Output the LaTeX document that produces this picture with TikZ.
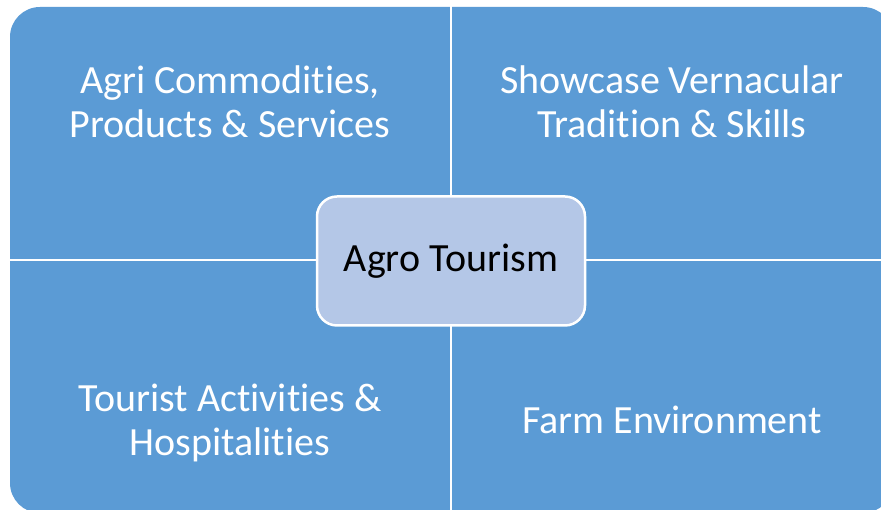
\documentclass[tikz,border=0pt]{standalone}
\usepackage{fontspec}
\setmainfont{Carlito}[RawFeature={-liga;-clig;-calt;-dlig}]
\definecolor{quad}{HTML}{5B9BD5}
\definecolor{centre}{HTML}{B4C7E7}
\begin{document}
\begin{tikzpicture}[x=1pt,y=1pt,
  quadfill/.style={fill=quad,rounded corners=30pt},
  divider/.style={draw=white,line width=2.5pt},
  qtext/.style={text=white,align=center,font=\fontsize{40}{44}\selectfont},
  hub/.style={fill=centre,draw=white,line width=2.5pt,rounded corners=20pt,minimum width=268pt,minimum height=129pt,font=\fontsize{40}{44}\selectfont,text=black}]
\useasboundingbox (0,0) rectangle (881,510);
\clip (0,0) rectangle (881,510);
% whole matrix (y = 510 - pixel y)
\path[quadfill] (10,-3) rectangle (893,503);
\coordinate (top) at (451,505);
\coordinate (bottom) at (451,-5);
\coordinate (left) at (5,250);
\coordinate (right) at (895,250);
\draw[divider] (top) -- (bottom);
\draw[divider] (left) -- (right);
\node[qtext] (tl) at (230,408) {Agri Commodities,\\Products \& Services};
\node[qtext] (tr) at (672,408) {Showcase Vernacular\\Tradition \& Skills};
\node[qtext] (bl) at (230,87) {Tourist Activities \&\\Hospitalities};
\node[qtext] (br) at (672,90) {Farm Environment};
\node[hub] (hub) at (451,249) {Agro Tourism};
\end{tikzpicture}
\end{document}
